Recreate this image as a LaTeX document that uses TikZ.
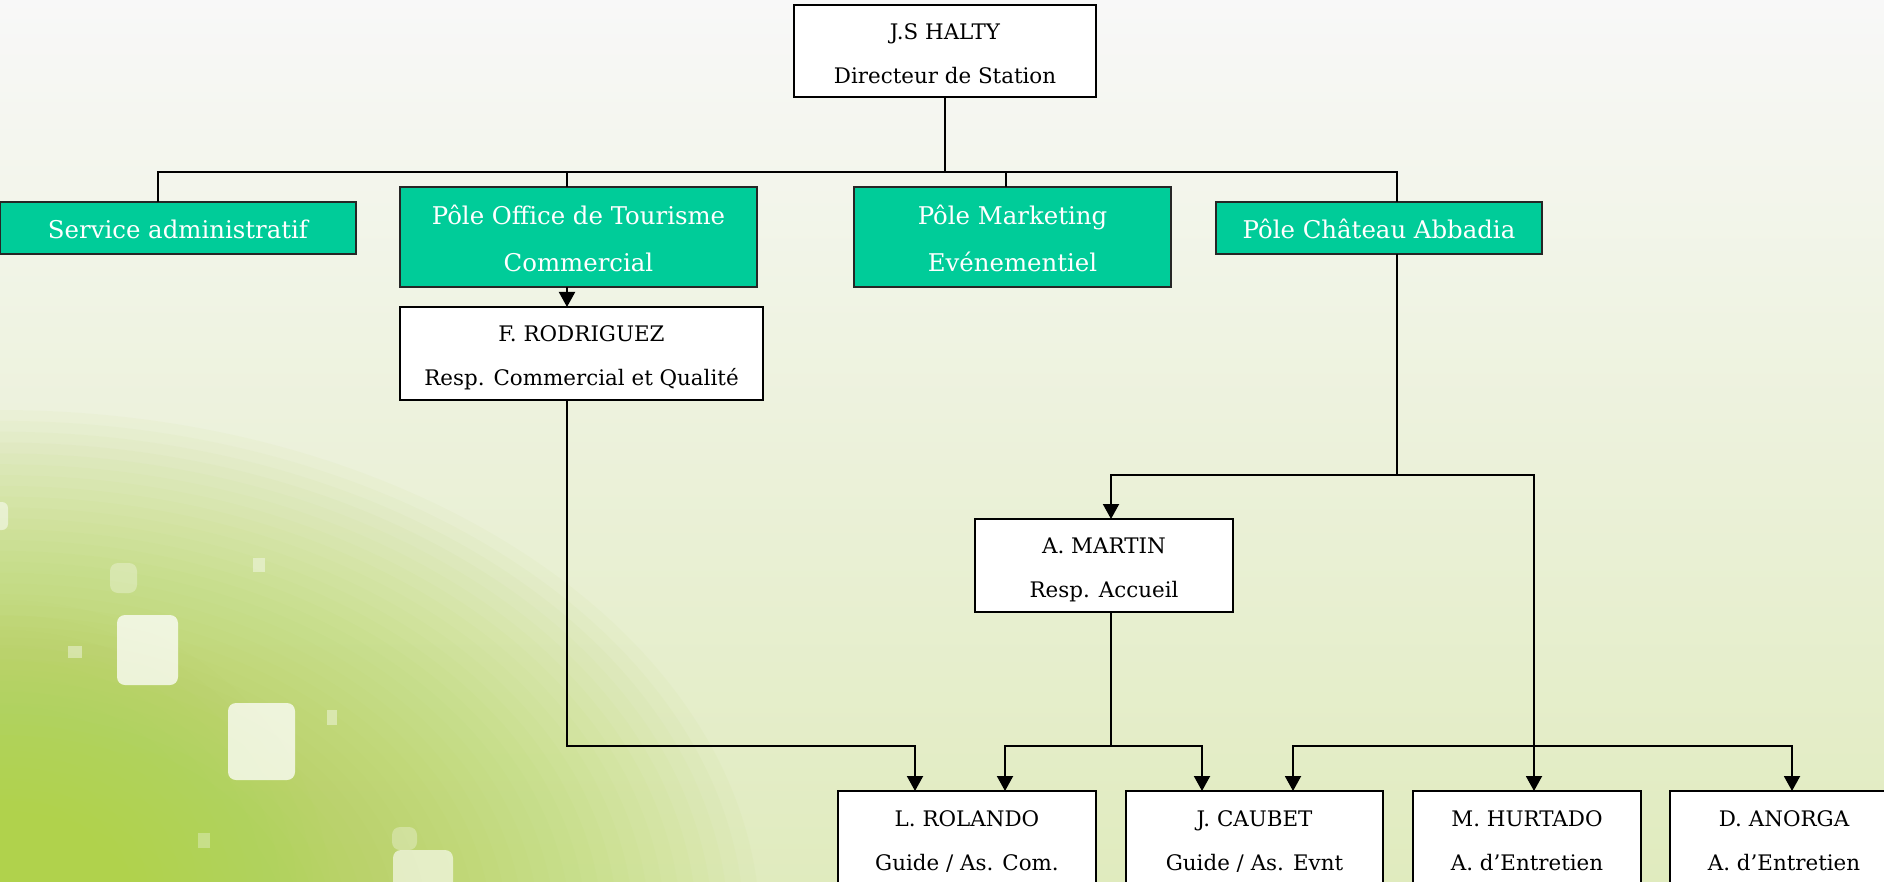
\documentclass[tikz,border=0pt]{standalone}
\usepackage{fontspec}
\setmainfont{DejaVu Serif}
\usetikzlibrary{arrows.meta}
\definecolor{pgreen}{HTML}{00CC99}
\definecolor{bgtop}{HTML}{F8F8F8}
\definecolor{bgmid}{HTML}{F3F4EC}
\definecolor{bgbot}{HTML}{E0EBBE}
\definecolor{lime}{HTML}{B0D24C}
\newcommand\bline{\rule[-1.2pt]{0pt}{13pt}}
\newcommand\gline{\rule[-1.2pt]{0pt}{13pt}}
\newcommand\twob[2]{\bline #1\\\bline #2}
\newcommand\twog[2]{\gline #1\\\gline #2}
\tikzset{
  wbox/.style={draw=black, line width=1.2pt, fill=white, font=\fontsize{10.7}{22}\selectfont, align=center, inner sep=0pt, outer sep=0pt},
  gbox/.style={draw=black!85, line width=1.2pt, fill=pgreen, text=white, font=\fontsize{12.2}{23.5}\selectfont, align=center, inner sep=0pt, outer sep=0pt},
  conn/.style={draw=black, line width=1pt},
  arr/.style={-{Triangle[width=8pt,length=7.5pt]}},
  sq/.style={fill=white, rounded corners=4pt}
}
\begin{document}
\begin{tikzpicture}[x=0.5pt,y=-0.5pt]
\useasboundingbox (0,0) rectangle (1884,882);
\clip (0,0) rectangle (1884,882);
% background
\shade[top color=bgtop, middle color=bgmid, bottom color=bgbot] (0,0) rectangle (1884,882);
\foreach \i in {1,...,48}{
  \fill[lime, opacity=0.045] (0,930) ellipse ({15.833*\i} and {10.833*\i});
}
\foreach \i in {1,...,20}{
  \fill[lime, opacity=0.035] (0,900) ellipse ({16.5*\i} and {15*\i});
}
% decorative squares
\fill[sq, opacity=0.75] (117,615) rectangle (178,685);
\fill[sq, opacity=0.75] (228,703) rectangle (295,780);
\fill[sq, opacity=0.3] (110,563) rectangle (137,593);
\fill[sq, opacity=0.6] (393,850) rectangle (453,900);
\fill[sq, opacity=0.3] (392,827) rectangle (417,850);
\fill[white, opacity=0.4] (253,558) rectangle (265,572);
\fill[white, opacity=0.4] (68,646) rectangle (82,658);
\fill[white, opacity=0.4] (327,710) rectangle (337,725);
\fill[white, opacity=0.3] (198,833) rectangle (210,848);
\fill[white, opacity=0.5, rounded corners=3pt] (-10,502) rectangle (8,530);
% nodes
\node[wbox, minimum width=151pt, minimum height=46pt] (halty) at (945,51) {\twob{J.S HALTY}{Directeur de Station}};
\node[gbox, minimum width=178pt, minimum height=26pt] (admin) at (178,228) {\gline Service administratif};
\node[gbox, minimum width=178.5pt, minimum height=50pt] (office) at (578.5,237) {\twog{Pôle Office de Tourisme}{Commercial}};
\node[gbox, minimum width=158.5pt, minimum height=50pt] (marketing) at (1012.5,237) {\twog{Pôle Marketing}{Evénementiel}};
\node[gbox, minimum width=163pt, minimum height=26pt] (chateau) at (1379,228) {\gline Pôle Château Abbadia};
\node[wbox, minimum width=181.5pt, minimum height=46.5pt] (rodriguez) at (581.5,353.5) {\twob{F. RODRIGUEZ}{Resp. Commercial et Qualité}};
\node[wbox, minimum width=129pt, minimum height=46.5pt] (martin) at (1104,565.5) {\twob{A. MARTIN}{Resp. Accueil}};
\node[wbox, minimum width=129pt, minimum height=46.5pt] (rolando) at (967,837.5) {\twob{L. ROLANDO}{Guide / As. Com.}};
\node[wbox, minimum width=128.5pt, minimum height=46.5pt] (caubet) at (1254.5,837.5) {\twob{J. CAUBET}{Guide / As. Evnt}};
\node[wbox, minimum width=114pt, minimum height=46.5pt] (hurtado) at (1527,837.5) {\twob{M. HURTADO}{A. d’Entretien}};
\node[wbox, minimum width=114pt, minimum height=46.5pt] (anorga) at (1784,837.5) {\twob{D. ANORGA}{A. d’Entretien}};
% connector coordinates
\coordinate (busL) at (158,172);
\coordinate (busR) at (1397,172);
\coordinate (midbus) at (0,475);
\coordinate (lowbus) at (0,746);
\coordinate (xoff) at (567,0);
\coordinate (xmk) at (1006,0);
\coordinate (xm) at (1111,0);
\coordinate (xh) at (1534,0);
\coordinate (xr1) at (915,0);
\coordinate (xr2) at (1005,0);
\coordinate (xc1) at (1202,0);
\coordinate (xc2) at (1293,0);
\coordinate (xa) at (1792,0);
% connectors
\draw[conn] (halty.south) -- (halty.south |- busL);
\draw[conn] (busL |- admin.north) -- (busL) -- (busR) -- (busR |- chateau.north);
\draw[conn] (busL -| xoff) -- (xoff |- office.north);
\draw[conn] (busL -| xmk) -- (xmk |- marketing.north);
\draw[conn,arr] (xoff |- office.south) -- (xoff |- rodriguez.north);
\draw[conn,arr] (xoff |- rodriguez.south) -- (xoff |- lowbus) -- (xr1 |- lowbus) -- (xr1 |- rolando.north);
\draw[conn,arr] (busR |- chateau.south) -- (busR |- midbus) -- (xm |- midbus) -- (xm |- martin.north);
\draw[conn,arr] (busR |- midbus) -- (xh |- midbus) -- (xh |- hurtado.north);
\draw[conn] (xm |- martin.south) -- (xm |- lowbus);
\draw[conn,arr] (xm |- lowbus) -- (xr2 |- lowbus) -- (xr2 |- rolando.north);
\draw[conn,arr] (xm |- lowbus) -- (xc1 |- lowbus) -- (xc1 |- caubet.north);
\draw[conn,arr] (xh |- lowbus) -- (xc2 |- lowbus) -- (xc2 |- caubet.north);
\draw[conn,arr] (xh |- lowbus) -- (xa |- lowbus) -- (xa |- anorga.north);
\end{tikzpicture}
\end{document}
